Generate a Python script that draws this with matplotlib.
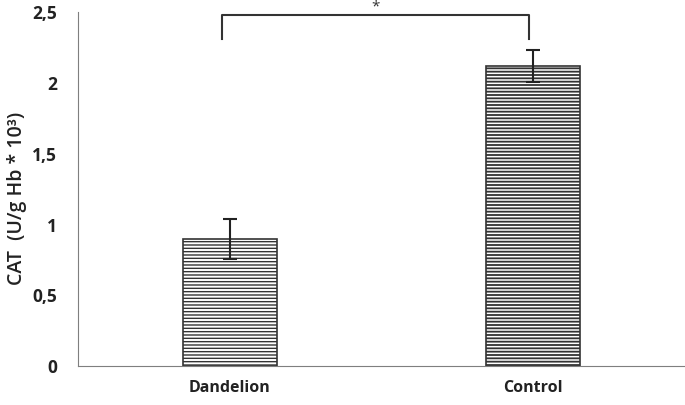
import matplotlib.pyplot as plt

groups = ['Dandelion', 'Control']
cat = [0.90, 2.12]
err = [0.14, 0.11]
hatch_cols = ['#8a8a8a', '#3c3c3c']

plt.rcParams['font.family'] = ['Open Sans', 'DejaVu Sans']
plt.rcParams['font.weight'] = 'bold'

fig = plt.figure(figsize=(6.85, 4.05), dpi=100)
ax = fig.add_axes([0.114, 0.096, 0.886, 0.874])

x = range(len(groups))
for i in x:
    plt.rcParams['hatch.color'] = hatch_cols[i]
    plt.rcParams['hatch.linewidth'] = 1.0 if i == 0 else 1.3
    ax.bar(i, cat[i], width=0.31, color='white', edgecolor='#333333',
           linewidth=1.2, hatch='-----')
    ax.errorbar(i, cat[i], yerr=err[i], fmt='none', ecolor='#222222',
                elinewidth=1.5, capsize=5, capthick=1.5)

ax.set_xlim(-0.5, 1.5)
ax.set_ylim(0, 2.5)
ax.set_xticks(list(x))
ax.set_xticklabels(groups, fontsize=11.5, fontweight='bold', color='#222222')
ax.set_yticks([0, 0.5, 1, 1.5, 2, 2.5])
ax.set_yticklabels(['0', '0,5', '1', '1,5', '2', '2,5'], fontsize=12.5,
                   fontweight='bold', color='#222222')
ax.tick_params(axis='x', length=0, pad=10)
ax.tick_params(axis='y', length=0, pad=15)
ax.set_ylabel('CAT  (U/g Hb * 10³)', fontsize=14, fontweight='semibold',
              color='#222222')
ax.yaxis.set_label_coords(-0.085, 0.475)
for s in ['top', 'right']:
    ax.spines[s].set_visible(False)
ax.spines['left'].set_color('#7f7f7f')
ax.spines['bottom'].set_color('#7f7f7f')

# significance bracket
ax.plot([-0.025, -0.025, 0.985, 0.985], [2.31, 2.48, 2.48, 2.31],
        color='#333333', lw=1.5, clip_on=False)
ax.text(0.48, 2.535, '*', ha='center', va='center', fontsize=11,
        color='#333333', fontweight='normal')

fig.savefig('out.png', dpi=100)
